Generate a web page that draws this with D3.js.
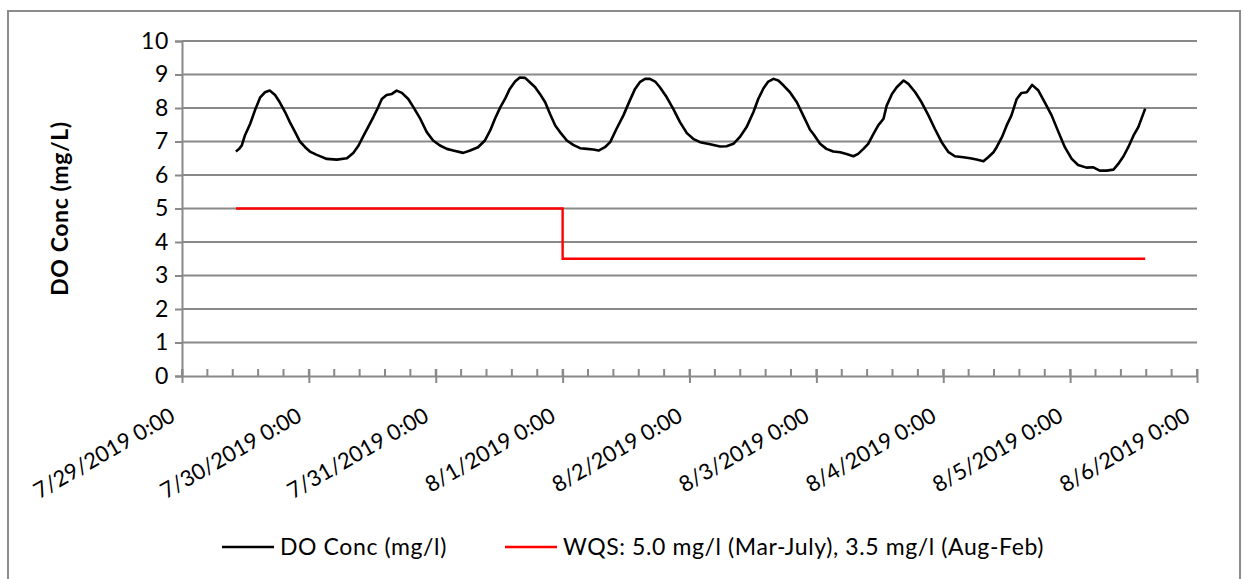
<!DOCTYPE html>
<html>
<head>
<meta charset="utf-8">
<script src="https://cdn.jsdelivr.net/npm/d3@7"></script>
<style>
  html, body { margin: 0; padding: 0; background: #fff; }
  svg { display: block; }
  text { font-family: Lato, "Noto Sans", sans-serif; fill: #000; }
</style>
</head>
<body>
<svg id="chart" width="1244" height="579"></svg>
<script>
// ---- data ----
const startDate = new Date(2019, 6, 29, 0, 0);   // 7/29/2019 0:00
const endDate = new Date(2019, 7, 6, 0, 0);      // 8/6/2019 0:00
// hours after startDate
const doHours = [10.2,10.8,11.3,11.9,12.9,13.8,14.8,15.7,16.6,17.6,18.5,19.5,20.4,21.4,22.3,23.3,24.2,25.5,27.4,29.3,31.2,32.4,33.4,34.3,35.2,36.2,37.1,37.8,38.7,39.7,40.6,41.6,42.8,43.8,45.0,46.3,47.5,48.8,50.1,51.3,53.2,54.5,56.0,57.3,58.3,59.2,60.2,61.1,62.0,63.0,63.9,64.9,65.8,66.8,67.7,68.7,69.6,70.6,71.5,72.8,74.0,75.3,76.6,77.8,78.8,80.0,81.0,82.2,83.5,84.7,85.7,86.6,87.6,88.5,89.5,90.4,91.7,92.9,94.2,95.5,96.7,98.0,99.9,101.8,103.0,104.3,105.5,106.8,108.1,109.0,110.0,110.9,111.9,112.8,113.8,115.0,116.3,117.5,118.8,119.4,120.7,121.9,123.2,124.5,125.7,127.0,127.9,128.9,129.8,130.8,131.7,132.7,133.3,134.3,135.2,136.5,137.4,138.7,139.9,141.2,142.4,143.7,145.0,146.2,147.8,149.1,150.3,151.6,152.5,153.5,154.1,155.1,156.0,156.9,157.9,158.8,159.8,160.8,162.0,163.2,164.5,165.8,167.0,168.3,169.5,171.1,172.4,173.6,174.9,176.2,177.1,178.1,179.0,180.0,180.9,182.2];
const doValues = [6.70,6.78,6.88,7.18,7.53,7.93,8.32,8.47,8.52,8.39,8.17,7.88,7.58,7.28,7.00,6.83,6.70,6.60,6.48,6.46,6.50,6.66,6.88,7.16,7.43,7.73,8.02,8.27,8.39,8.42,8.52,8.45,8.27,8.02,7.70,7.28,7.03,6.88,6.78,6.73,6.66,6.73,6.83,7.03,7.33,7.68,8.02,8.27,8.57,8.79,8.91,8.90,8.77,8.62,8.42,8.17,7.83,7.48,7.28,7.03,6.90,6.80,6.78,6.76,6.73,6.83,6.98,7.38,7.78,8.22,8.57,8.77,8.87,8.87,8.79,8.62,8.32,7.98,7.58,7.25,7.08,6.98,6.92,6.85,6.86,6.93,7.13,7.43,7.88,8.27,8.59,8.79,8.87,8.82,8.67,8.47,8.17,7.78,7.35,7.23,6.93,6.78,6.70,6.68,6.63,6.56,6.63,6.78,6.93,7.23,7.48,7.68,8.07,8.42,8.62,8.82,8.72,8.47,8.17,7.78,7.38,6.98,6.68,6.56,6.53,6.50,6.46,6.41,6.53,6.68,6.83,7.13,7.48,7.78,8.27,8.45,8.47,8.69,8.52,8.17,7.78,7.28,6.83,6.48,6.30,6.22,6.23,6.13,6.13,6.16,6.33,6.56,6.83,7.18,7.43,7.98];
const wqsHours = [10.2, 72.0, 72.0, 182.2];
const wqsValues = [5.0, 5.0, 3.5, 3.5];
const yTicks = [0,1,2,3,4,5,6,7,8,9,10];
const seriesNames = ["DO Conc (mg/l)", "WQS: 5.0 mg/l (Mar-July), 3.5 mg/l (Aug-Feb)"];
const seriesColors = ["#000000", "#ff0000"];
const yTitle = "DO Conc (mg/L)";

// ---- chart ----
const svg = d3.select("#chart");
const gridColor = "#898989";
const L = 182, R = 1197, T = 41, B = 376;
const FS = 23, LS = "0.6px";

// outer chart border
svg.append("rect").attr("x", 8).attr("y", 11).attr("width", 1232).attr("height", 600)
  .attr("fill", "none").attr("stroke", "#8c8c8c").attr("stroke-width", 2);

const x = d3.scaleTime().domain([startDate, endDate]).range([L, R]);
const y = d3.scaleLinear().domain([0, 10]).range([B, T]);
const toDate = h => new Date(startDate.getTime() + h * 3600 * 1000);

// horizontal gridlines
svg.append("g").selectAll("line").data(yTicks.filter(d => d > 0)).join("line")
  .attr("x1", L).attr("x2", R).attr("y1", d => y(d)).attr("y2", d => y(d))
  .attr("stroke", gridColor).attr("stroke-width", 2);

// y axis
const yAxis = d3.axisLeft(y).tickValues(yTicks).tickSize(7).tickPadding(10).tickFormat(d3.format("d"));
const gy = svg.append("g").attr("transform", `translate(${L},0)`).call(yAxis);
gy.select(".domain").attr("stroke", gridColor).attr("stroke-width", 2);
gy.selectAll(".tick line").attr("stroke", gridColor).attr("stroke-width", 2);
gy.selectAll(".tick text").attr("font-size", FS).attr("font-family", "Lato")
  .attr("letter-spacing", LS).attr("x", -13);

// x axis - minor ticks (every 0.2 day, inside)
const dayTicks = d3.timeDay.range(startDate, d3.timeDay.offset(endDate, 1));
const minorTicks = d3.range(0, 8 * 24 + 0.01, 4.8).map(toDate);
svg.append("g").selectAll("line").data(minorTicks).join("line")
  .attr("x1", d => x(d)).attr("x2", d => x(d)).attr("y1", B - 7).attr("y2", B)
  .attr("stroke", gridColor).attr("stroke-width", 2);

const xAxis = d3.axisBottom(x).tickValues(dayTicks).tickSize(7).tickSizeOuter(0)
  .tickFormat(d3.timeFormat("%-m/%-d/%Y %-H:%M"));
const gx = svg.append("g").attr("transform", `translate(0,${B})`).call(xAxis);
gx.select(".domain").attr("stroke", gridColor).attr("stroke-width", 2);
gx.selectAll(".tick line").attr("stroke", gridColor).attr("stroke-width", 2).attr("y1", -7);
gx.selectAll(".tick text")
  .attr("font-size", 22).attr("font-family", "Lato")
  .attr("text-anchor", "end").attr("dy", 0).attr("y", 0).attr("x", 0)
  .attr("transform", "translate(-6,44) rotate(-30)");

// axis title
svg.append("text").attr("transform", `translate(68,${(T + B) / 2}) rotate(-90)`)
  .attr("text-anchor", "middle").attr("font-size", FS).attr("font-weight", "bold")
  .attr("letter-spacing", LS)
  .text(yTitle);

// lines
const line = d3.line().x(d => x(toDate(d[0]))).y(d => y(d[1]));
svg.append("path").datum(doHours.map((h, i) => [h, doValues[i]]))
  .attr("d", line).attr("fill", "none").attr("stroke", seriesColors[0]).attr("stroke-width", 2.6)
  .attr("stroke-linejoin", "round");
svg.append("path").datum(wqsHours.map((h, i) => [h, wqsValues[i]]))
  .attr("d", line).attr("fill", "none").attr("stroke", seriesColors[1]).attr("stroke-width", 2.4);

// legend
const legendY = 547;
const legendItems = [{x: 222, name: seriesNames[0], color: seriesColors[0]},
                     {x: 505, name: seriesNames[1], color: seriesColors[1]}];
const lg = svg.append("g").selectAll("g").data(legendItems).join("g")
  .attr("transform", d => `translate(${d.x},${legendY})`);
lg.append("line").attr("x1", 0).attr("x2", 52).attr("y1", 0).attr("y2", 0)
  .attr("stroke", d => d.color).attr("stroke-width", 2.4);
lg.append("text").attr("x", 58).attr("y", 0).attr("dy", "0.35em").attr("font-size", FS)
  .attr("letter-spacing", LS)
  .text(d => d.name);
</script>
</body>
</html>
